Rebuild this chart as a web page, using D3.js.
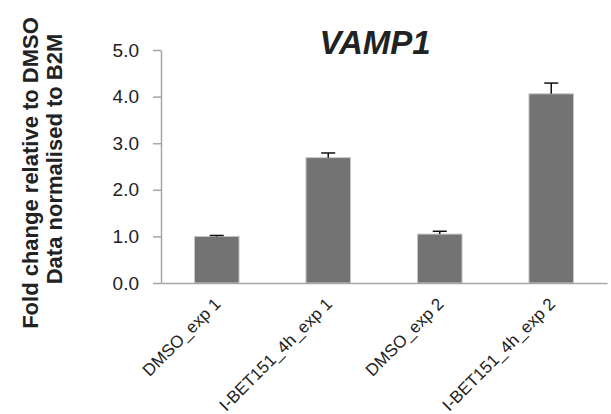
<!DOCTYPE html>
<html>
<head>
<meta charset="utf-8">
<script src="https://cdn.jsdelivr.net/npm/d3@7"></script>
<style>
  body { margin: 0; background: #fff; }
  text { font-family: "Liberation Sans", Arial, sans-serif; fill: #222; }
</style>
</head>
<body>
<div class="canvas"></div>
<script>
'use strict';

const categories = ['DMSO_exp 1', 'I-BET151_4h_exp 1', 'DMSO_exp 2', 'I-BET151_4h_exp 2'];
const values = [1.0, 2.69, 1.05, 4.06];
const errors = [0.02, 0.10, 0.06, 0.23];
const yTicks = [0, 1, 2, 3, 4, 5];

const dims = { width: 611, height: 414 };
const margin = { top: 50, right: 4, bottom: 131, left: 161 };
const innerW = dims.width - margin.left - margin.right;
const innerH = dims.height - margin.top - margin.bottom;

const svg = d3.select('.canvas')
    .append('svg')
    .attr('width', dims.width)
    .attr('height', dims.height);

const graph = svg.append('g')
    .attr('transform', `translate(${margin.left},${margin.top})`);

const x = d3.scaleBand()
    .domain(categories)
    .range([0, innerW])
    .paddingInner(0.6)
    .paddingOuter(0.3);

const y = d3.scaleLinear()
    .domain([0, 5])
    .range([innerH, 0]);

// y axis
const yAxis = graph.append('g')
    .call(d3.axisLeft(y).tickValues(yTicks).tickFormat(d3.format('.1f')).tickSize(8).tickSizeOuter(0));
yAxis.selectAll('line, path').attr('stroke', '#a6a6a6').attr('stroke-width', 1.5);
yAxis.selectAll('text')
    .attr('font-size', 19)
    .attr('x', -22)
    .attr('fill', '#222');

// bars
graph.selectAll('rect.bar')
    .data(values)
    .enter().append('rect')
    .attr('class', 'bar')
    .attr('x', (d, i) => x(categories[i]))
    .attr('y', d => y(d))
    .attr('width', x.bandwidth())
    .attr('height', d => innerH - y(d))
    .attr('fill', '#737373')
    .attr('stroke', '#c8c8c8')
    .attr('stroke-width', 1);

// error bars (upper only)
const err = graph.selectAll('g.err')
    .data(values)
    .enter().append('g')
    .attr('class', 'err')
    .attr('transform', (d, i) => `translate(${x(categories[i]) + x.bandwidth() / 2},0)`);

err.append('line')
    .attr('y1', d => y(d))
    .attr('y2', (d, i) => y(d + errors[i]))
    .attr('stroke', '#111')
    .attr('stroke-width', 1.5);

err.append('line')
    .attr('x1', -7).attr('x2', 7)
    .attr('y1', (d, i) => y(d + errors[i]))
    .attr('y2', (d, i) => y(d + errors[i]))
    .attr('stroke', '#111')
    .attr('stroke-width', 1.5);

// x axis
const xAxis = graph.append('g')
    .attr('transform', `translate(0,${innerH})`)
    .call(d3.axisBottom(x).tickSize(0).tickSizeOuter(0));
xAxis.select('path').attr('stroke', '#a6a6a6').attr('stroke-width', 1.5);
xAxis.selectAll('text')
    .attr('font-size', 17)
    .attr('text-anchor', 'end')
    .attr('x', 0)
    .attr('y', 0)
    .attr('dy', 0)
    .attr('transform', 'translate(5,22) rotate(-45)')
    .attr('fill', '#222');

// title
svg.append('text')
    .attr('x', 375)
    .attr('y', 54)
    .attr('text-anchor', 'middle')
    .attr('font-size', 33)
    .attr('font-weight', 'bold')
    .attr('font-style', 'italic')
    .text('VAMP1');

// y title, two lines
svg.append('text')
    .attr('transform', 'translate(37.5,173) rotate(-90)')
    .attr('text-anchor', 'middle')
    .attr('font-size', 22)
    .attr('font-weight', 'bold')
    .text('Fold change relative to DMSO');

svg.append('text')
    .attr('transform', 'translate(62,159) rotate(-90)')
    .attr('text-anchor', 'middle')
    .attr('font-size', 22)
    .attr('font-weight', 'bold')
    .text('Data normalised to B2M');
</script>
</body>
</html>
